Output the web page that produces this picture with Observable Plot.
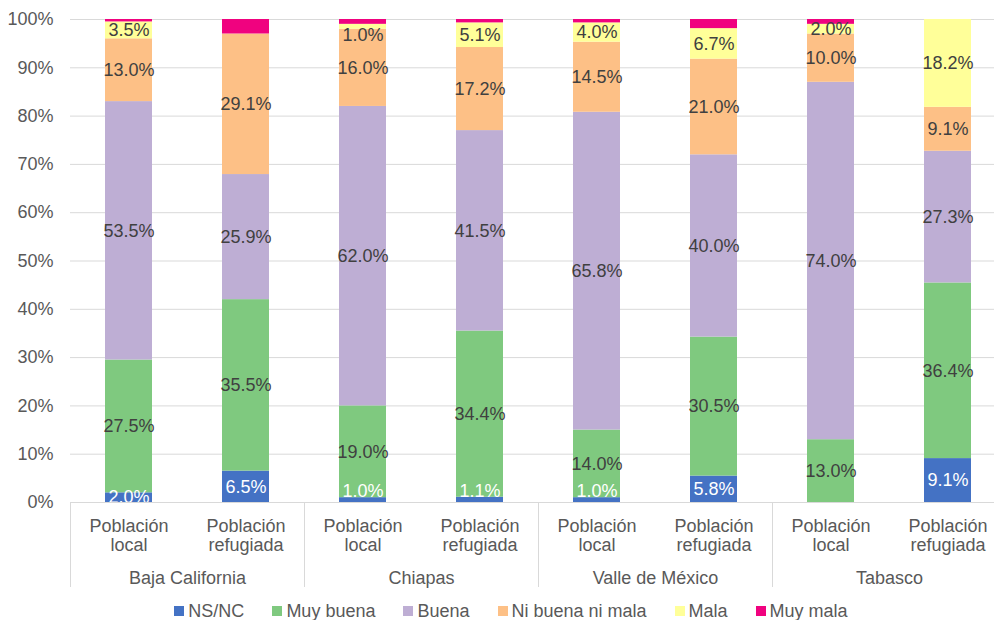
<!DOCTYPE html>
<html>
<head>
<meta charset="utf-8">
<script src="https://cdn.jsdelivr.net/npm/d3@7"></script>
<script src="https://cdn.jsdelivr.net/npm/@observablehq/plot@0.6"></script>
<style>
  html, body { margin: 0; padding: 0; background: white; overflow: hidden; }
  #legend { width: 1022px; display: flex; justify-content: center; align-items: center;
    font-family: "Liberation Sans", Arial, sans-serif; font-size: 18px; color: #595959;
    margin-top: 5px; line-height: 22px; }
  #legend .item { display: flex; align-items: center; margin: 0 14px; }
  #legend .sw { width: 10px; height: 10px; margin-right: 4px; }
</style>
</head>
<body>
<div id="chart"></div>
<div id="legend"></div>
<script>
const groups = ["Baja California", "Chiapas", "Valle de México", "Tabasco"];
const populations = ["Población local", "Población refugiada"];
const categories = ["NS/NC", "Muy buena", "Buena", "Ni buena ni mala", "Mala", "Muy mala"];
const colors = ["#4472C4", "#7FC97F", "#BEAED4", "#FDC086", "#FFFF99", "#F0027F"];

// values per bar, in the order of categories
const bajaCaliforniaLocal = [2.0, 27.5, 53.5, 13.0, 3.5, 0.5];
const bajaCaliforniaRefugiada = [6.5, 35.5, 25.9, 29.1, 0, 3.0];
const chiapasLocal = [1.0, 19.0, 62.0, 16.0, 1.0, 1.0];
const chiapasRefugiada = [1.1, 34.4, 41.5, 17.2, 5.1, 0.7];
const valleLocal = [1.0, 14.0, 65.8, 14.5, 4.0, 0.7];
const valleRefugiada = [5.8, 30.5, 40.0, 21.0, 6.7, 2.0];
const tabascoLocal = [0, 13.0, 74.0, 10.0, 2.0, 1.0];
const tabascoRefugiada = [9.1, 36.4, 27.3, 9.1, 18.2, 0];

const series = [
  [groups[0], populations[0], bajaCaliforniaLocal],
  [groups[0], populations[1], bajaCaliforniaRefugiada],
  [groups[1], populations[0], chiapasLocal],
  [groups[1], populations[1], chiapasRefugiada],
  [groups[2], populations[0], valleLocal],
  [groups[2], populations[1], valleRefugiada],
  [groups[3], populations[0], tabascoLocal],
  [groups[3], populations[1], tabascoRefugiada]
];
const rows = [];
for (const [group, pop, vals] of series) {
  vals.forEach((v, i) => rows.push({group, pop, cat: categories[i], value: v}));
}

const fmt = v => v.toFixed(1) + "%";
const stackOpts = {fx: "group", x: "pop", y: "value", z: "cat", order: categories, offset: "normalize"};
const pctFmt = d3.format(".0%");
const isLabeled = d => d.cat !== "Muy mala" && d.value > 0;
const tiny = d => d.value < 1.5;

const chart = Plot.plot({
  width: 994,
  height: 595,
  marginTop: 19,
  marginBottom: 93,
  marginLeft: 70,
  marginRight: -12,
  style: {fontFamily: "'Liberation Sans', Arial, sans-serif", fontSize: "18px", color: "#595959", background: "white"},
  fx: {domain: groups, padding: 0, label: null},
  x: {domain: populations, paddingInner: 0.6, paddingOuter: 0.3, label: null},
  y: {domain: [0, 1], label: null},
  color: {domain: categories, range: colors},
  marks: [
    Plot.gridY({ticks: 10, stroke: "#d9d9d9", strokeOpacity: 1}),
    Plot.barY(rows, Plot.stackY({...stackOpts, fill: "cat"})),
    // NS/NC labels (white)
    Plot.text(rows, Plot.stackY({...stackOpts,
      text: d => (isLabeled(d) && d.cat === "NS/NC" && !tiny(d)) ? fmt(d.value) : null,
      fill: "white", fontSize: 18})),
    Plot.text(rows, Plot.stackY({...stackOpts,
      text: d => (isLabeled(d) && d.cat === "NS/NC" && tiny(d)) ? fmt(d.value) : null,
      fill: "white", fontSize: 18, dy: -9})),
    // other labels (dark)
    Plot.text(rows, Plot.stackY({...stackOpts,
      text: d => (isLabeled(d) && d.cat !== "NS/NC" && !tiny(d)) ? fmt(d.value) : null,
      fill: "#404040", fontSize: 18})),
    Plot.text(rows, Plot.stackY({...stackOpts,
      text: d => (isLabeled(d) && d.cat !== "NS/NC" && tiny(d)) ? fmt(d.value) : null,
      fill: "#404040", fontSize: 18, dy: 8})),
    Plot.ruleY([0], {stroke: "#d9d9d9"}),
    Plot.frame({anchor: "left", stroke: "#d9d9d9", insetTop: 483, insetBottom: -84}),
    Plot.axisY({ticks: 10, tickFormat: pctFmt, tickSize: 0, tickPadding: 17, label: null, fill: "#595959"}),
    Plot.axisX({tickSize: 0, tickPadding: 15, tickFormat: d => d.replace(" ", "\n"), lineHeight: 1.1, label: null, fill: "#595959"}),
    Plot.axisFx({anchor: "bottom", tickSize: 0, tickPadding: 69, label: null, fill: "#595959"})
  ]
});
document.getElementById("chart").appendChild(chart);

const legend = document.getElementById("legend");
categories.forEach((c, i) => {
  const item = document.createElement("div");
  item.className = "item";
  const sw = document.createElement("span");
  sw.className = "sw";
  sw.style.background = colors[i];
  const t = document.createElement("span");
  t.textContent = c;
  item.appendChild(sw);
  item.appendChild(t);
  legend.appendChild(item);
});
</script>
</body>
</html>
